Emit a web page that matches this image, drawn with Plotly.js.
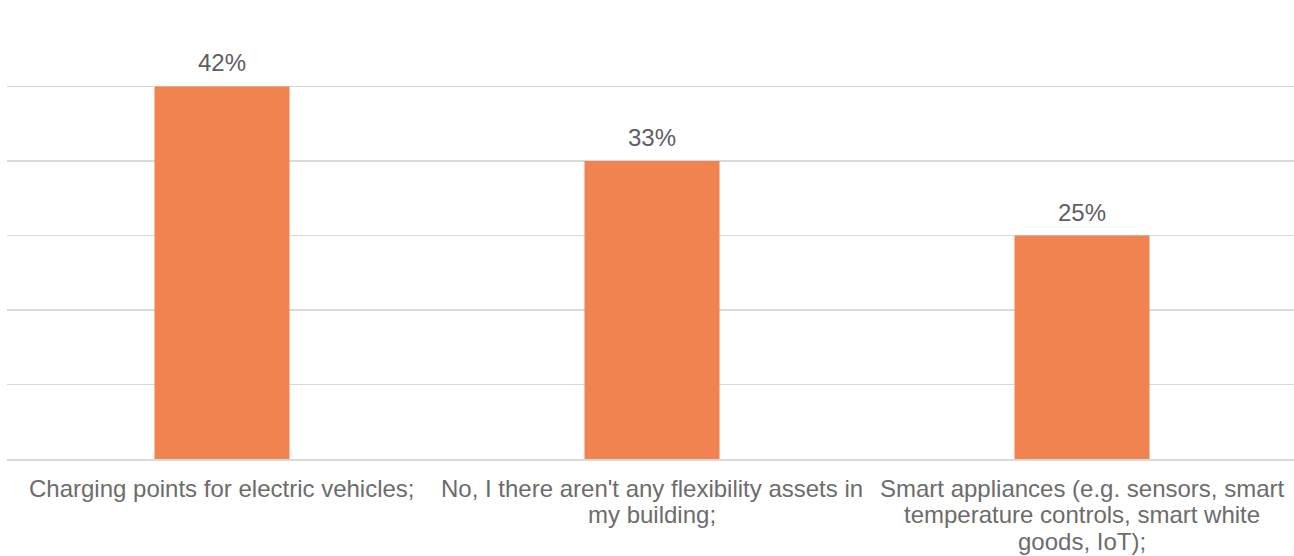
<!DOCTYPE html>
<html>
<head>
<meta charset="utf-8">
<script src="https://cdn.plot.ly/plotly-3.0.1.min.js"></script>
<style>
html,body{margin:0;padding:0;overflow:hidden;background:#fff;}
#chart{width:1297px;height:556px;}
</style>
</head>
<body>
<div id="chart"></div>
<script>
var categories = [
  "Charging points for electric vehicles;",
  "No, I there aren't any flexibility assets in<br>my building;",
  "Smart appliances (e.g. sensors, smart<br>temperature controls, smart white<br>goods, IoT);"
];
var values = [41.67, 33.33, 25.0];
var valueLabels = ["42%", "33%", "25%"];
var gridTicks = [0, 8.333, 16.667, 25, 33.333, 41.667, 50];

var FONT = "Liberation Sans, Arial, sans-serif";
var VALUECOL = "#5e5e5e";
var CATCOL = "#6c6c6c";
var LABELSIZE = 24;
var LINESTEP = 26.8;

var trace = {
  type: "bar",
  x: categories,
  y: values,
  marker: {color: "#F08350"},
  hoverinfo: "none",
  cliponaxis: false
};

var annotations = categories.map(function (c, i) {
  return {
    x: c, y: values[i], xref: "x", yref: "y",
    text: valueLabels[i], showarrow: false,
    yanchor: "bottom", yshift: 8,
    font: {family: FONT, size: 24, color: VALUECOL}
  };
});

categories.forEach(function (c) {
  c.split("<br>").forEach(function (line, j) {
    annotations.push({
      x: c, xref: "x", y: 0, yref: "paper",
      text: line, showarrow: false,
      xanchor: "center", yanchor: "middle",
      yshift: -(29 + j * LINESTEP),
      font: {family: FONT, size: LABELSIZE, color: CATCOL}
    });
  });
});

var layout = {
  width: 1297, height: 556,
  margin: {l: 7, r: 0, t: 12, b: 97},
  paper_bgcolor: "#ffffff",
  plot_bgcolor: "#ffffff",
  showlegend: false,
  bargap: 0.686,
  font: {family: FONT, size: 24, color: VALUECOL},
  xaxis: {
    type: "category",
    showgrid: false,
    showline: true,
    linecolor: "#d9d9d9",
    linewidth: 1.5,
    ticks: "",
    showticklabels: false
  },
  yaxis: {
    range: [0, 50],
    tickvals: gridTicks,
    showticklabels: false,
    showgrid: true,
    gridcolor: "#d9d9d9",
    gridwidth: 1.5,
    zeroline: false,
    ticks: ""
  },
  annotations: annotations
};

Plotly.newPlot("chart", [trace], layout, {displayModeBar: false, staticPlot: true});
</script>
</body>
</html>
